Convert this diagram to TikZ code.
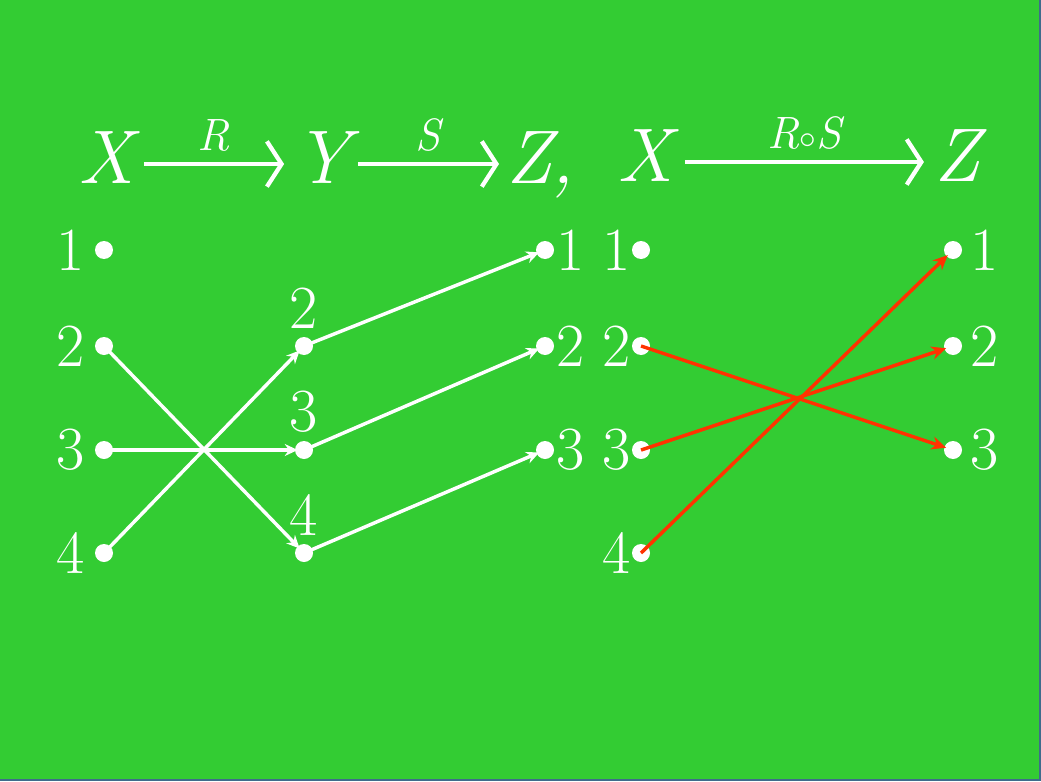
\documentclass[tikz,border=0pt]{standalone}
\usepackage{fontspec}
\usetikzlibrary{arrows.meta}
\definecolor{slidegreen}{HTML}{33CC33}
\definecolor{linkred}{HTML}{FF3300}
\definecolor{edgeblue}{HTML}{3F6C8C}
\tikzset{
  pt/.style={circle,fill=white,inner sep=0pt,minimum size=13.5pt},
  num/.style={text=white,inner sep=0pt,font=\fontsize{46}{46}\selectfont},
  settxt/.style={text=white,inner sep=0pt,anchor=base,font=\fontsize{57}{57}\selectfont\itshape},
  maptxt/.style={text=white,inner sep=0pt,font=\fontsize{34}{34}\selectfont\itshape},
  maparrow/.style={white,line width=3.2pt,-{Straight Barb[length=11pt,width=34pt,line width=3.2pt]}},
  rel/.style={white,line width=2.6pt,-{Stealth[length=9.75pt,width=9pt]},shorten >=-2.25pt},
  comp/.style={linkred,line width=2.6pt,-{Stealth[length=11pt,width=10pt]},shorten >=-1.5pt}
}
\begin{document}
\begin{tikzpicture}[x=0.75pt,y=-0.75pt]
  \fill[slidegreen] (0,0) rectangle (1041,781);
  \fill[edgeblue] (0,779) rectangle (1041,781);
  \fill[edgeblue] (1039,0) rectangle (1041,781);
  % header
  \node[settxt] (X) at (106,183) {X};
  \node[settxt] (Y) at (322,183) {Y};
  \node[settxt,anchor=base west] (Z) at (506,183) {Z,};
  \node[settxt] (X2) at (645,181) {X};
  \node[settxt] (Z2) at (957,181) {Z};
  \draw[maparrow] ([shift={(7.5pt,14.25pt)}]X.base east) -- ([shift={(-7.5pt,14.25pt)}]Y.base west)
    node[midway,above=7.5pt,maptxt] (R) {R};
  \draw[maparrow] ([shift={(6pt,14.25pt)}]Y.base east) -- ([shift={(-5.25pt,14.25pt)}]Z.base west)
    node[midway,above=7.5pt,maptxt] (S) {S};
  \draw[maparrow] ([shift={(9pt,14.25pt)}]X2.base east) -- ([shift={(-7.5pt,14.25pt)}]Z2.base west)
    node[midway,above=7.5pt,maptxt] (RS) {R$\circ$S};
  % X -> Y -> Z
  \node[pt,label={[num,label distance=7.5pt]left:1}] (x1) at (104,250) {};
  \node[pt,label={[num,label distance=7.5pt]left:2}] (x2) at (104,346) {};
  \node[pt,label={[num,label distance=7.5pt]left:3}] (x3) at (104,450) {};
  \node[pt,label={[num,label distance=7.5pt]left:4}] (x4) at (104,553) {};
  \node[pt,label={[num,label distance=6pt]above:2}] (y2) at (304,346) {};
  \node[pt,label={[num,label distance=6pt]above:3}] (y3) at (304,450) {};
  \node[pt,label={[num,label distance=6pt]above:4}] (y4) at (304,553) {};
  \node[pt,label={[num,label distance=1.5pt]right:1}] (z1) at (545,250) {};
  \node[pt,label={[num,label distance=1.5pt]right:2}] (z2) at (545,346) {};
  \node[pt,label={[num,label distance=1.5pt]right:3}] (z3) at (545,450) {};
  \draw[rel] (x2.center) -- (y4);
  \draw[rel] (x3.center) -- (y3);
  \draw[rel] (x4.center) -- (y2);
  \draw[rel] (y2.center) -- (z1);
  \draw[rel] (y3.center) -- (z2);
  \draw[rel] (y4.center) -- (z3);
  % X -> Z
  \node[pt,label={[num,label distance=0.75pt]left:1}] (u1) at (641,250) {};
  \node[pt,label={[num,label distance=0.75pt]left:2}] (u2) at (641,346) {};
  \node[pt,label={[num,label distance=0.75pt]left:3}] (u3) at (641,450) {};
  \node[pt,label={[num,label distance=0.75pt]left:4}] (u4) at (641,553) {};
  \node[pt,label={[num,label distance=6pt]right:1}] (w1) at (953,250) {};
  \node[pt,label={[num,label distance=6pt]right:2}] (w2) at (953,346) {};
  \node[pt,label={[num,label distance=6pt]right:3}] (w3) at (953,450) {};
  \draw[comp] (u2.center) -- (w3);
  \draw[comp] (u3.center) -- (w2);
  \draw[comp] (u4.center) -- (w1);
\end{tikzpicture}
\end{document}
